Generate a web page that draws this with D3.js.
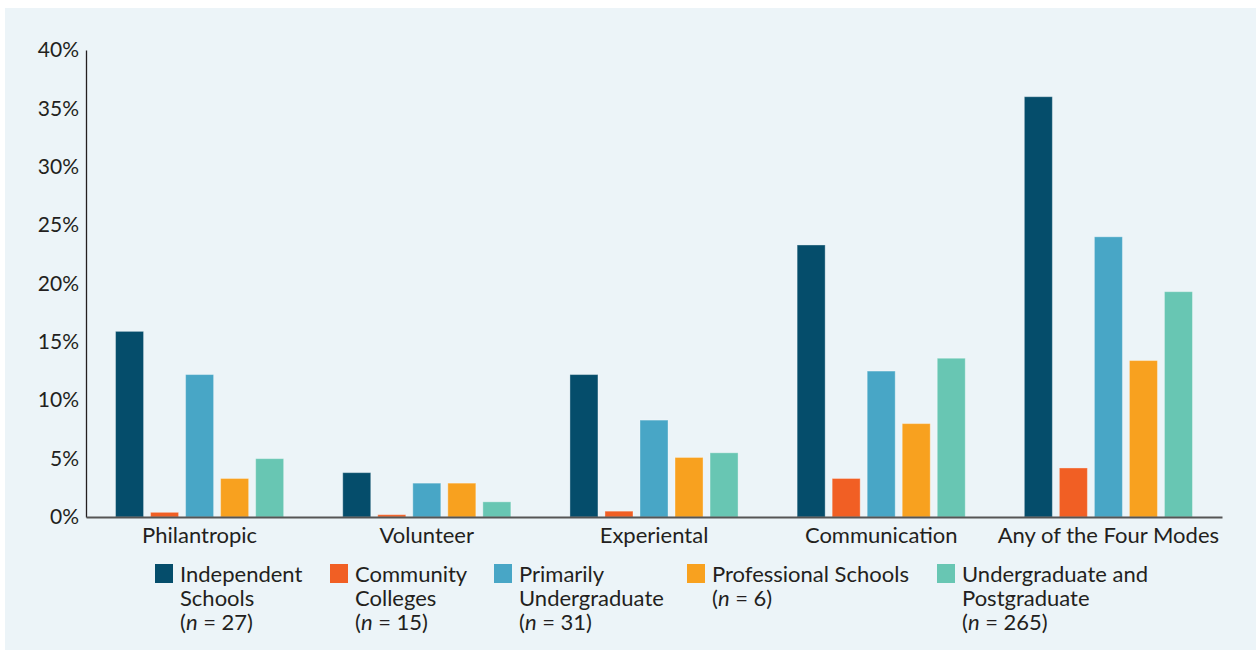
<!DOCTYPE html>
<html>
<head>
<meta charset="utf-8">
<script src="https://cdn.jsdelivr.net/npm/d3@7"></script>
<style>
  html, body { margin: 0; padding: 0; background: #ffffff; }
  #chart { width: 1256px; height: 650px; }
  text { font-family: Lato, "Open Sans", sans-serif; fill: #231f20; }
</style>
</head>
<body>
<div id="chart"></div>
<script>
// categories along the x axis
const modes = ["Philantropic", "Volunteer", "Experiental", "Communication", "Any of the Four Modes"];

// institution types (legend), each with its lines of label text
const groups = ["independent", "community", "primarily", "professional", "ugpg"];
const groupLabels = [
  ["Independent", "Schools", "(n = 27)"],
  ["Community", "Colleges", "(n = 15)"],
  ["Primarily", "Undergraduate", "(n = 31)"],
  ["Professional Schools", "(n = 6)"],
  ["Undergraduate and", "Postgraduate", "(n = 265)"]
];
const groupColors = ["#054d6b", "#f15f24", "#48a6c6", "#f8a11f", "#68c6b3"];

// percentages, one array per institution type, in the order of modes
const independent = [15.9, 3.8, 12.2, 23.3, 36.0];
const community   = [0.4, 0.2, 0.5, 3.3, 4.2];
const primarily   = [12.2, 2.9, 8.3, 12.5, 24.0];
const professional = [3.3, 2.9, 5.1, 8.0, 13.4];
const ugpg        = [5.0, 1.3, 5.5, 13.6, 19.3];

const yTicks = [0, 5, 10, 15, 20, 25, 30, 35, 40];

const seriesValues = [independent, community, primarily, professional, ugpg];

const W = 1256, H = 650;
const margin = {top: 50, right: 34, bottom: 133, left: 86};
const width = W - margin.left - margin.right;
const height = H - margin.top - margin.bottom;

const svg = d3.select("#chart").append("svg")
  .attr("width", W)
  .attr("height", H);

// light panel behind the figure
svg.append("rect")
  .attr("x", 5).attr("y", 8)
  .attr("width", W - 5).attr("height", H - 8)
  .attr("fill", "#ecf4f8");

const g = svg.append("g")
  .attr("transform", "translate(" + margin.left + "," + margin.top + ")");

// scales
const x0 = d3.scaleBand()
  .domain(modes)
  .range([0, width])
  .paddingInner(0.26)
  .paddingOuter(0.13);

const x1 = d3.scaleBand()
  .domain(groups)
  .range([0, x0.bandwidth()])
  .paddingInner(0.2)
  .paddingOuter(0);

const y = d3.scaleLinear()
  .domain([0, 40])
  .range([height, 0]);

const color = d3.scaleOrdinal().domain(groups).range(groupColors);

// bars
const modeG = g.selectAll(".mode")
  .data(modes)
  .enter().append("g")
  .attr("class", "mode")
  .attr("transform", d => "translate(" + x0(d) + ",0)");

modeG.selectAll("rect")
  .data((m, mi) => groups.map((k, gi) => ({key: k, value: seriesValues[gi][mi]})))
  .enter().append("rect")
  .attr("x", d => x1(d.key))
  .attr("y", d => y(d.value))
  .attr("width", x1.bandwidth())
  .attr("height", d => height - y(d.value))
  .attr("fill", d => color(d.key))
  .attr("stroke", "#ffffff")
  .attr("stroke-opacity", 0.35)
  .attr("stroke-width", 1);

// y axis
const yAxis = d3.axisLeft(y)
  .tickValues(yTicks)
  .tickSize(0)
  .tickPadding(7)
  .tickFormat(d => d + "%");

const yG = g.append("g").attr("class", "y-axis").call(yAxis);
yG.select(".domain").attr("stroke", "#231f20").attr("stroke-width", 1.3);
yG.selectAll("text")
  .attr("font-size", "21px")
  .attr("fill", "#231f20")
  .style("font-family", "Lato, sans-serif");

// x axis
const xAxis = d3.axisBottom(x0).tickSize(0).tickPadding(10);
const xG = g.append("g")
  .attr("class", "x-axis")
  .attr("transform", "translate(0," + height + ")")
  .call(xAxis);
xG.select(".domain").attr("stroke", "#555555").attr("stroke-width", 2);
xG.selectAll("text")
  .attr("font-size", "22px")
  .attr("fill", "#231f20")
  .style("font-family", "Lato, sans-serif");

// legend - one text per line
const legendX = [155, 330, 494, 687, 937];
const legend = svg.append("g").attr("class", "legend");

groups.forEach((k, i) => {
  const item = legend.append("g")
    .attr("transform", "translate(" + legendX[i] + ",564)");
  item.append("rect")
    .attr("width", 18).attr("height", 19)
    .attr("fill", groupColors[i]);
  groupLabels[i].forEach((line, li) => {
    const t = item.append("text")
      .attr("x", 25)
      .attr("y", 18 + li * 24)
      .attr("font-size", "22px");
    const m = line.match(/^\(n( = .*)$/);
    if (m) {
      t.append("tspan").text("(");
      t.append("tspan").attr("font-style", "italic").text("n");
      t.append("tspan").text(m[1]);
    } else {
      t.text(line);
    }
  });
});
</script>
</body>
</html>
